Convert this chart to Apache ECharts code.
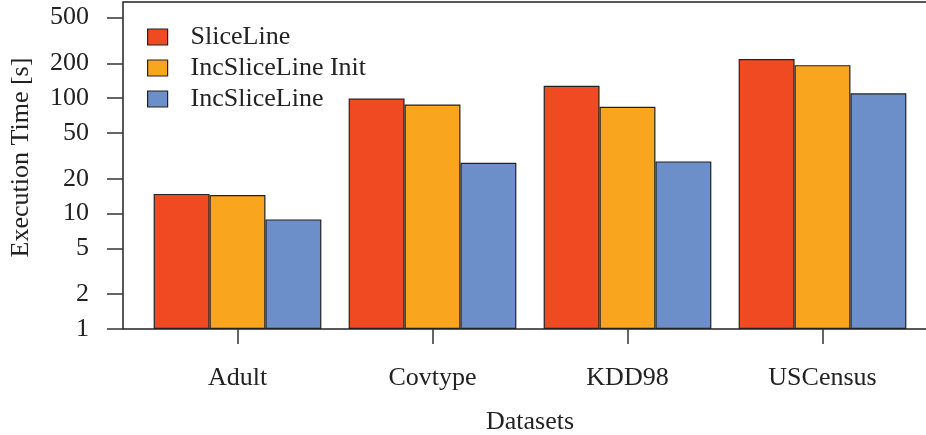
<!DOCTYPE html>
<html>
<head>
<meta charset="utf-8">
<script src="https://cdn.jsdelivr.net/npm/echarts@6/dist/echarts.min.js"></script>
<style>
html,body{margin:0;padding:0;background:#fff;}
#chart{width:926px;height:435px;}
</style>
</head>
<body>
<div id="chart"></div>
<script>
// datasets on the x axis
var datasets = ['Adult', 'Covtype', 'KDD98', 'USCensus'];
// execution time in seconds
var sliceLine = [14.8, 99, 128, 218];
var incInit = [14.5, 88, 84, 193];
var incSlice = [8.9, 27.5, 28.3, 110];
var yTicks = [1, 2, 5, 10, 20, 50, 100, 200, 500];

var chart = echarts.init(document.getElementById('chart'));
var font = 'Liberation Serif';
var ink = '#222';
var fs = 26;

function barSeries(name, data, color) {
    return {
        name: name,
        type: 'bar',
        data: data,
        barGap: '0%',
        barCategoryGap: '14%',
        itemStyle: { color: color, borderColor: '#222', borderWidth: 1.2 }
    };
}

var option = {
    animation: false,
    backgroundColor: '#fff',
    textStyle: { fontFamily: font, color: ink },
    legend: {
        left: 142,
        top: 19,
        orient: 'vertical',
        icon: 'rect',
        itemWidth: 20,
        itemHeight: 16,
        itemGap: 5,
        textStyle: { fontFamily: font, fontSize: fs, color: ink, padding: [0, 0, 0, 18] },
        itemStyle: { borderColor: '#222', borderWidth: 1.2 },
        data: ['SliceLine', 'IncSliceLine Init', 'IncSliceLine']
    },
    grid: [
        { left: 140, right: 6, top: 2, bottom: 106, outerBoundsMode: 'none', containLabel: false },
        { left: 123, right: -10, top: 2, bottom: 106, outerBoundsMode: 'none', containLabel: false,
          show: true, borderColor: '#222', borderWidth: 1.5, backgroundColor: 'transparent' }
    ],
    xAxis: [{
        type: 'category',
        data: datasets,
        gridIndex: 0,
        name: 'Datasets',
        nameLocation: 'middle',
        nameGap: 80,
        nameTextStyle: { fontFamily: font, fontSize: fs, color: ink },
        axisLine: { show: false },
        axisTick: { show: true, alignWithLabel: true, length: 15, lineStyle: { color: '#333', width: 1.5 } },
        axisLabel: { fontFamily: font, fontSize: fs, color: ink, margin: 36 }
    }, {
        type: 'value', gridIndex: 1, show: false
    }],
    yAxis: [{
        type: 'log',
        gridIndex: 0,
        min: 1,
        max: 680,
        offset: 17,
        name: 'Execution Time [s]',
        nameLocation: 'middle',
        nameGap: 89,
        nameTextStyle: { fontFamily: font, fontSize: fs, color: ink, padding: [0, 0, 0, 16] },
        axisLine: { show: false },
        axisTick: { show: true, length: 16, customValues: yTicks, lineStyle: { color: '#333', width: 1.5 } },
        axisLabel: { fontFamily: font, fontSize: fs, color: ink, margin: 34, customValues: yTicks },
        splitLine: { show: false },
        minorTick: { show: false }
    }, {
        type: 'value', gridIndex: 1, show: false
    }],
    series: [
        barSeries('SliceLine', sliceLine, '#F04A23'),
        barSeries('IncSliceLine Init', incInit, '#F9A61E'),
        barSeries('IncSliceLine', incSlice, '#6C8FC9')
    ]
};
chart.setOption(option);
</script>
</body>
</html>
